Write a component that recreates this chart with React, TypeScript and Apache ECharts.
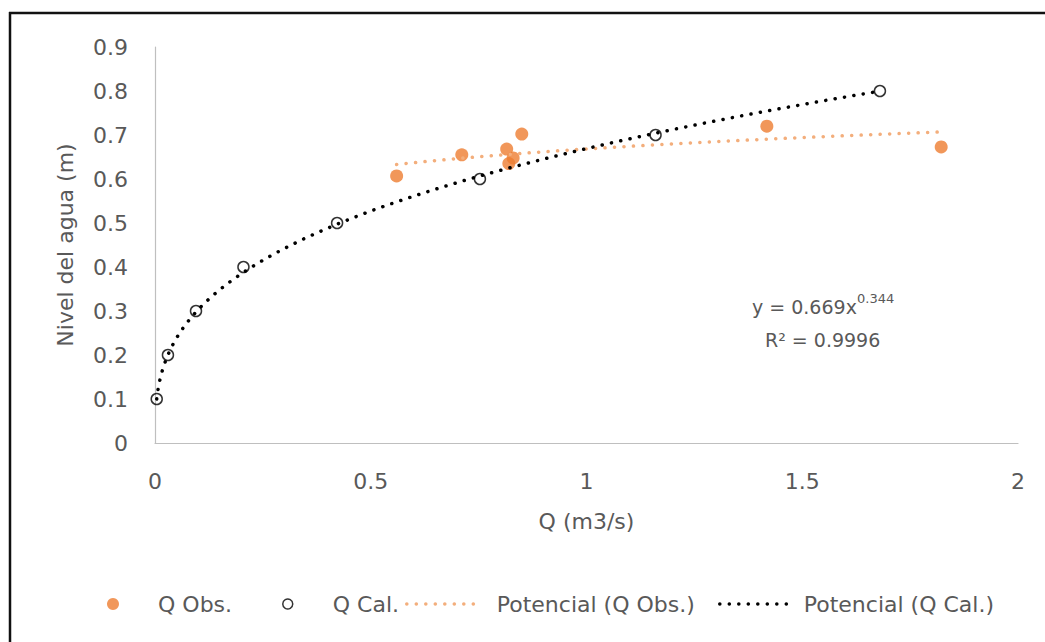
import React, { useEffect, useRef } from "react";
import * as echarts from "echarts";

// ---- data ----
const obsQ = [0.56, 0.711, 0.815, 0.82, 0.83, 0.85, 1.418, 1.822];
const obsH = [0.607, 0.655, 0.668, 0.635, 0.648, 0.702, 0.72, 0.673];
const calQ = [0.004, 0.03, 0.095, 0.205, 0.422, 0.753, 1.16, 1.68];
const calH = [0.1, 0.2, 0.3, 0.4, 0.5, 0.6, 0.7, 0.8];
// Power trendline shown for Q Cal. (y = a x^b)
const calFitA = 0.669;
const calFitB = 0.344;
const calFitR2 = "0.9996";
const xTickInterval = 0.5;
const yTickInterval = 0.1;

const FONT = "DejaVu Sans";
const GRAY = "#595959";
const ORANGE = "#ED7D31";
const ORANGE_TREND = "#F3AE7C";

// least-squares power fit (as Excel's "Potencial" trendline)
function powerFit(xs: number[], ys: number[]) {
  const lx = xs.map(Math.log);
  const ly = ys.map(Math.log);
  const n = xs.length;
  const mx = lx.reduce((s, v) => s + v, 0) / n;
  const my = ly.reduce((s, v) => s + v, 0) / n;
  let sxy = 0, sxx = 0;
  for (let i = 0; i < n; i++) {
    sxy += (lx[i] - mx) * (ly[i] - my);
    sxx += (lx[i] - mx) * (lx[i] - mx);
  }
  const b = sxy / sxx;
  const a = Math.exp(my - b * mx);
  return { a, b };
}

function trendPoints(xs: number[], a: number, b: number) {
  const lo = Math.min(...xs);
  const hi = Math.max(...xs);
  const pts: number[][] = [];
  const N = 160;
  for (let i = 0; i <= N; i++) {
    const x = Math.exp(Math.log(lo) + (i / N) * (Math.log(hi) - Math.log(lo)));
    pts.push([x, a * Math.pow(x, b)]);
  }
  return pts;
}

export default function App() {
  const ref = useRef<HTMLDivElement>(null);
  useEffect(() => {
    if (!ref.current) return;
    const chart = echarts.init(ref.current, undefined, { renderer: "svg" });
    const obsFit = powerFit(obsQ, obsH);
    const dotted = [0.1, 9.4];
    const textBase = { fontFamily: FONT, fontSize: 22, color: GRAY, lineHeight: 24 };
    const hiddenSymbol = { color: "rgba(0,0,0,0)", opacity: 0, borderWidth: 0 };
    chart.setOption({
      animation: false,
      backgroundColor: "#fff",
      textStyle: { fontFamily: FONT },
      grid: { left: 155, right: 27, top: 47, bottom: 199, containLabel: false },
      xAxis: {
        type: "value",
        min: 0,
        max: 2,
        interval: xTickInterval,
        name: "Q (m3/s)",
        nameLocation: "middle",
        nameGap: 66,
        nameTextStyle: { ...textBase },
        axisLine: { show: true, onZero: false, lineStyle: { color: "#bfbfbf", width: 1.2 } },
        axisTick: { show: false },
        splitLine: { show: false },
        axisLabel: { ...textBase, margin: 26 },
      },
      yAxis: {
        type: "value",
        min: 0,
        max: 0.9,
        interval: yTickInterval,
        name: "Nivel del agua (m)",
        nameLocation: "middle",
        nameGap: 78,
        nameTextStyle: { ...textBase },
        axisLine: { show: true, onZero: false, lineStyle: { color: "#bfbfbf", width: 1.2 } },
        axisTick: { show: false },
        splitLine: { show: false },
        axisLabel: { ...textBase, margin: 27 },
      },
      legend: [
        {
          left: 107, top: 592, padding: 0, selectedMode: false,
          itemWidth: 12, itemHeight: 12,
          data: [{ name: "Q Obs.", icon: "circle" }],
          textStyle: { ...textBase, padding: [0, 0, 0, 34] },
        },
        {
          left: 282, top: 592, padding: 0, selectedMode: false,
          itemWidth: 10, itemHeight: 10,
          data: [{ name: "Q Cal.", icon: "circle", itemStyle: { color: "rgba(0,0,0,0)", borderColor: "#000", borderWidth: 1.5 } }],
          textStyle: { ...textBase, padding: [0, 0, 0, 35] },
        },
        {
          left: 405, top: 592, padding: 0, selectedMode: false,
          itemWidth: 70, itemHeight: 14,
          data: ["Potencial (Q Obs.)"],
          itemStyle: hiddenSymbol,
          lineStyle: { color: ORANGE_TREND, width: 3.5, type: dotted, cap: "round" },
          textStyle: { ...textBase, padding: [0, 0, 0, 15] },
        },
        {
          left: 718, top: 592, padding: 0, selectedMode: false,
          itemWidth: 67, itemHeight: 14,
          data: ["Potencial (Q Cal.)"],
          itemStyle: hiddenSymbol,
          lineStyle: { color: "#000", width: 3.5, type: dotted, cap: "round" },
          textStyle: { ...textBase, padding: [0, 0, 0, 12] },
        },
      ],
      series: [
        {
          name: "Q Obs.",
          type: "scatter",
          symbol: "circle",
          symbolSize: 13,
          itemStyle: { color: ORANGE },
          data: obsQ.map((q, i) => [q, obsH[i]]),
          z: 2,
        },
        {
          name: "Q Cal.",
          type: "scatter",
          symbol: "circle",
          symbolSize: 11,
          itemStyle: { color: "rgba(0,0,0,0)", borderColor: "#000", borderWidth: 1.5 },
          data: calQ.map((q, i) => [q, calH[i]]),
          z: 2,
        },
        {
          name: "Potencial (Q Obs.)",
          type: "line",
          symbol: "none",
          silent: true,
          lineStyle: { color: ORANGE_TREND, width: 3.5, type: dotted, cap: "round" },
          itemStyle: { color: ORANGE_TREND },
          data: trendPoints(obsQ, obsFit.a, obsFit.b),
          z: 3,
        },
        {
          name: "Potencial (Q Cal.)",
          type: "line",
          symbol: "none",
          silent: true,
          lineStyle: { color: "#000", width: 3.5, type: dotted, cap: "round" },
          itemStyle: { color: "#000" },
          data: trendPoints(calQ, calFitA, calFitB),
          z: 3,
        },
      ],
      graphic: [
        { type: "line", shape: { x1: 9, y1: 13, x2: 1045, y2: 13 }, style: { stroke: "#111", lineWidth: 2.5 } },
        { type: "line", shape: { x1: 10, y1: 12, x2: 10, y2: 642 }, style: { stroke: "#111", lineWidth: 2.5 } },
        {
          type: "text", left: 752, top: 297,
          style: { text: `y = ${calFitA}x`, fontFamily: FONT, fontSize: 19, fill: GRAY },
        },
        {
          type: "text", left: 857, top: 292,
          style: { text: `${calFitB}`, fontFamily: FONT, fontSize: 13, fill: GRAY },
        },
        {
          type: "text", left: 765, top: 330,
          style: { text: `R\u00B2 = ${calFitR2}`, fontFamily: FONT, fontSize: 19, fill: GRAY },
        },
      ],
    });
    return () => chart.dispose();
  }, []);
  return (
    <div
      ref={ref}
      style={{ position: "fixed", left: 0, top: 0, width: 1045, height: 642, background: "#fff" }}
    />
  );
}
